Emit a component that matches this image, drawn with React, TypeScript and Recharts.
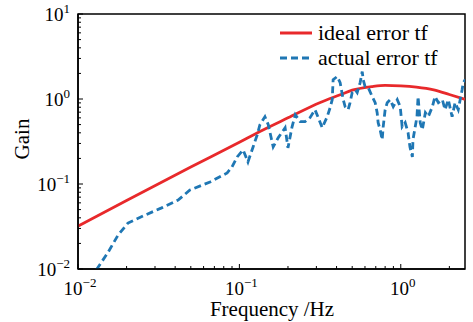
import {
  LineChart, Line, XAxis, YAxis, Legend, ReferenceArea,
} from 'recharts';

const FONT = "'Liberation Serif', 'DejaVu Serif', serif";
const RED = '#e8292b';
const BLUE = '#1f77b4';

// ideal error transfer function
const idealFreq = [0.01, 0.02, 0.05, 0.1, 0.134, 0.2, 0.317, 0.421, 0.5, 0.66, 0.8, 1.0, 1.25, 1.6, 2.0, 2.5];
const idealGain = [0.032, 0.064, 0.158, 0.31, 0.415, 0.6, 0.91, 1.12, 1.27, 1.4, 1.45, 1.43, 1.38, 1.28, 1.13, 0.99];

// measured (actual) error transfer function
const actualFreq = [
  0.013, 0.01535, 0.0177, 0.0204, 0.026, 0.0327, 0.0417, 0.0494, 0.0658, 0.084,
  0.09, 0.0969, 0.1055, 0.113, 0.1216, 0.129, 0.134, 0.144, 0.151, 0.162,
  0.174, 0.192, 0.2, 0.212, 0.222, 0.238, 0.255, 0.274, 0.294, 0.308,
  0.326, 0.35, 0.365, 0.376, 0.381, 0.404, 0.421, 0.44, 0.452, 0.472,
  0.485, 0.5, 0.521, 0.537, 0.56, 0.577, 0.585, 0.601, 0.628, 0.665,
  0.694, 0.714, 0.724, 0.745, 0.767, 0.778, 0.8, 0.824, 0.86, 0.898,
  0.951, 0.992, 1.02, 1.065, 1.11, 1.14, 1.18, 1.19, 1.26, 1.28,
  1.32, 1.36, 1.42, 1.48, 1.57, 1.63, 1.71, 1.81, 1.88, 1.97,
  2.08, 2.17, 2.27, 2.4, 2.44, 2.51,
];
const actualGain = [
  0.0098, 0.0157, 0.025, 0.0347, 0.043, 0.052, 0.0647, 0.085, 0.1057, 0.135,
  0.159, 0.208, 0.252, 0.182, 0.273, 0.379, 0.498, 0.619, 0.498, 0.273,
  0.35, 0.459, 0.266, 0.471, 0.653, 0.541, 0.541, 0.603, 0.748, 0.603,
  0.459, 0.619, 0.791, 0.982, 1.69, 1.84, 1.56, 0.982, 0.813, 0.748,
  0.906, 1.19, 1.29, 1.19, 1.56, 2.1, 1.69, 1.4, 1.37, 1.07,
  0.906, 0.69, 0.526, 0.435, 0.331, 0.471, 0.748, 0.906, 0.982, 0.813,
  0.982, 0.813, 0.471, 0.526, 0.401, 0.273, 0.208, 0.331, 0.619, 1.07,
  0.526, 0.435, 0.69, 0.619, 0.813, 1.07, 0.906, 0.982, 0.748, 0.982,
  0.619, 0.906, 0.748, 1.29, 1.56, 1.69,
];

const xTicks = [
  0.01, 0.02, 0.03, 0.04, 0.05, 0.06, 0.07, 0.08, 0.09,
  0.1, 0.2, 0.3, 0.4, 0.5, 0.6, 0.7, 0.8, 0.9,
  1, 2,
];
const yTicks = [
  0.01, 0.02, 0.03, 0.04, 0.05, 0.06, 0.07, 0.08, 0.09,
  0.1, 0.2, 0.3, 0.4, 0.5, 0.6, 0.7, 0.8, 0.9,
  1, 2, 3, 4, 5, 6, 7, 8, 9, 10,
];

const idealData = idealFreq.map((f, i) => ({ f, g: idealGain[i] }));
const actualData = actualFreq.map((f, i) => ({ f, g: actualGain[i] }));

function decade(v: number): number | null {
  const l = Math.log10(v);
  const e = Math.round(l);
  return Math.abs(l - e) < 1e-6 ? e : null;
}

function Pow({ x, y, e, anchor }: { x: number; y: number; e: number; anchor: string }) {
  return (
    <text x={x} y={y} textAnchor={anchor} style={{ fontFamily: FONT }} fontSize={19} fill="#000">
      10
      <tspan dy={-8} fontSize={13}>{e < 0 ? `\u2212${-e}` : e}</tspan>
    </text>
  );
}

function XTick(props: any) {
  const { x, y, payload } = props;
  const e = decade(payload.value);
  return (
    <g>
      <line x1={x} x2={x} y1={y} y2={y - (e !== null ? 5 : 3)} stroke="#000" strokeWidth={1} />
      {e !== null && <Pow x={x + 2} y={y + 26} e={e} anchor="middle" />}
    </g>
  );
}

function YTick(props: any) {
  const { x, y, payload } = props;
  const e = decade(payload.value);
  return (
    <g>
      <line x1={x} x2={x + (e !== null ? 5 : 3)} y1={y} y2={y} stroke="#000" strokeWidth={1} />
      {e !== null && <Pow x={x - 8} y={y + 7} e={e} anchor="end" />}
    </g>
  );
}

function LegendBox() {
  const rows = [
    { label: 'ideal error tf', color: RED, dash: undefined },
    { label: 'actual error tf', color: BLUE, dash: '7 4' },
  ];
  return (
    <div>
      {rows.map(r => (
        <div key={r.label} style={{ display: 'flex', alignItems: 'center', height: 25, whiteSpace: 'nowrap' }}>
          <svg width={32} height={6} style={{ marginRight: 6 }}>
            <line x1={0} x2={32} y1={3} y2={3} stroke={r.color} strokeWidth={3} strokeDasharray={r.dash} />
          </svg>
          <span style={{ fontFamily: FONT, fontSize: 22, color: '#000' }}>{r.label}</span>
        </div>
      ))}
    </div>
  );
}

export default function App() {
  return (
    <div style={{ position: 'absolute', left: 0, top: 0, background: '#fff', fontFamily: FONT }}>
      <LineChart width={473} height={322} margin={{ top: 14, right: 8, left: 0, bottom: 0 }}>
        <XAxis
          dataKey="f"
          type="number"
          scale="log"
          domain={[0.01, 2.5]}
          allowDataOverflow
          ticks={xTicks}
          interval={0}
          height={53}
          tickSize={0}
          tickMargin={0}
          tick={<XTick />}
          axisLine={{ stroke: '#000', strokeWidth: 1.5 }}
          label={{
            content: () => (
              <text x={272} y={316} textAnchor="middle" style={{ fontFamily: FONT }} fontSize={21} fill="#000">
                Frequency /Hz
              </text>
            ),
          }}
        />
        <YAxis
          dataKey="g"
          type="number"
          scale="log"
          domain={[0.01, 10]}
          allowDataOverflow
          ticks={yTicks}
          interval={0}
          width={78}
          tickSize={0}
          tickMargin={0}
          tick={<YTick />}
          axisLine={{ stroke: '#000', strokeWidth: 1.5 }}
          label={{
            content: () => (
              <text
                x={29}
                y={139}
                transform="rotate(-90 29 139)"
                textAnchor="middle"
                style={{ fontFamily: FONT }}
                fontSize={21}
                fill="#000"
              >
                Gain
              </text>
            ),
          }}
        />
        <ReferenceArea x1={0.01} x2={2.5} y1={0.01} y2={10} fill="none" stroke="#000" strokeWidth={1.5} />
        <Line
          data={idealData}
          dataKey="g"
          type="monotone"
          stroke={RED}
          strokeWidth={2.8}
          dot={false}
          activeDot={false}
          isAnimationActive={false}
        />
        <Line
          data={actualData}
          dataKey="g"
          type="linear"
          stroke={BLUE}
          strokeWidth={2.8}
          strokeDasharray="7 4"
          dot={false}
          activeDot={false}
          isAnimationActive={false}
        />
        <Legend
          layout="vertical"
          align="center"
          verticalAlign="middle"
          content={<LegendBox />}
          wrapperStyle={{ left: 280, top: 20, width: 'auto', height: 'auto' }}
        />
      </LineChart>
    </div>
  );
}
